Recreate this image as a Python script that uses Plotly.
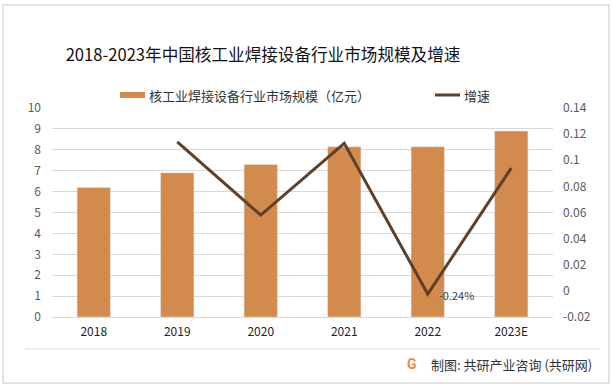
import plotly.graph_objects as go

years = ["2018", "2019", "2020", "2021", "2022", "2023E"]
market_size = [6.2, 6.9, 7.3, 8.15, 8.15, 8.9]
growth = [None, 0.114, 0.058, 0.113, -0.0024, 0.094]
left_ticks = list(range(0, 11))
right_ticks = [-0.02, 0, 0.02, 0.04, 0.06, 0.08, 0.1, 0.12, 0.14]
right_tick_text = ["-0.02", "0", "0.02", "0.04", "0.06", "0.08", "0.1", "0.12", "0.14"]
bar_name = "核工业焊接设备行业市场规模（亿元）"
line_name = "增速"

FONT = "Noto Sans CJK SC"
BAR_C = "#D38B4D"
LINE_C = "#5F4129"

# plot area in pixels
L, R, T, B = 52, 553, 108, 317
PW, PH = R - L, B - T


def px(x):
    return (x - L) / PW


def py(y):
    return (B - y) / PH


fig = go.Figure()
fig.add_trace(go.Bar(x=years, y=market_size, name=bar_name,
                     marker_color=BAR_C, yaxis="y"))
fig.add_trace(go.Scatter(x=years, y=growth, name=line_name, mode="lines",
                         line=dict(color=LINE_C, width=3), yaxis="y2"))

fig.update_layout(
    width=613, height=388,
    margin=dict(l=L, r=613 - R, t=T, b=388 - B, autoexpand=False),
    paper_bgcolor="white", plot_bgcolor="white",
    font=dict(family=FONT, size=12, color="#595959"),
    bargap=0.6,
    showlegend=False,
    xaxis=dict(type="category", categoryorder="array", categoryarray=years,
               range=[-0.5, 5.5], showgrid=False, showline=True, linecolor="#D9D9D9",
               ticks="", tickfont=dict(size=12, color="#222222"), ticklabelstandoff=4),
    yaxis=dict(range=[0, 10], tickvals=left_ticks, showgrid=True, gridcolor="#D9D9D9",
               zeroline=False, ticks="", tickfont=dict(size=12, color="#595959"),
               ticklabelstandoff=10),
    yaxis2=dict(range=[-0.02, 0.14], tickvals=right_ticks, ticktext=right_tick_text,
                overlaying="y", side="right", showgrid=False, zeroline=False, ticks="",
                tickfont=dict(size=12, color="#595959"), ticklabelstandoff=9),
    title=dict(text="2018-2023年中国核工业焊接设备行业市场规模及增速",
               x=263 / 613, xanchor="center", y=1 - 55 / 388, yanchor="middle",
               font=dict(family=FONT, size=16.6, color="#111111")),
)

fig.add_annotation(x=4, y=growth[4], xref="x", yref="y2",
                   text="-0.24%", showarrow=False, xanchor="left", yanchor="middle",
                   xshift=9, yshift=-1, font=dict(size=11, color="#404040"))

# custom legend
fig.add_shape(type="rect", xref="paper", yref="paper",
              x0=px(120), x1=px(145), y0=py(98), y1=py(92),
              fillcolor=BAR_C, line=dict(width=0))
fig.add_annotation(xref="paper", yref="paper", x=px(147), y=py(95), text=bar_name,
                   showarrow=False, xanchor="left", yanchor="middle",
                   font=dict(size=13, color="#333333"))
fig.add_shape(type="line", xref="paper", yref="paper",
              x0=px(435), x1=px(460), y0=py(95), y1=py(95),
              line=dict(color=LINE_C, width=3))
fig.add_annotation(xref="paper", yref="paper", x=px(462), y=py(95), text=line_name,
                   showarrow=False, xanchor="left", yanchor="middle",
                   font=dict(size=13, color="#333333"))

# border and separator
fig.add_shape(type="rect", xref="paper", yref="paper",
              x0=px(3), x1=px(609), y0=py(383), y1=py(5),
              line=dict(color="#D9D9D9", width=1.5), layer="below")
fig.add_shape(type="line", xref="paper", yref="paper",
              x0=px(25), x1=px(600), y0=py(349), y1=py(349),
              line=dict(color="#DADADA", width=1), layer="above")

# footer
fig.add_annotation(xref="paper", yref="paper", x=px(412), y=py(364),
                   text="<b>G</b>", showarrow=False, xanchor="center", yanchor="middle",
                   font=dict(family="Roboto", size=14, color="#F08A3C"))
fig.add_annotation(xref="paper", yref="paper", x=px(429), y=py(364),
                   text="制图: 共研产业咨询 (共研网)", showarrow=False, xanchor="left",
                   yanchor="middle", font=dict(size=13, color="#333333"))

fig.write_html("out.html", config={"displayModeBar": False},
               post_script="document.body.style.margin='0px';")
